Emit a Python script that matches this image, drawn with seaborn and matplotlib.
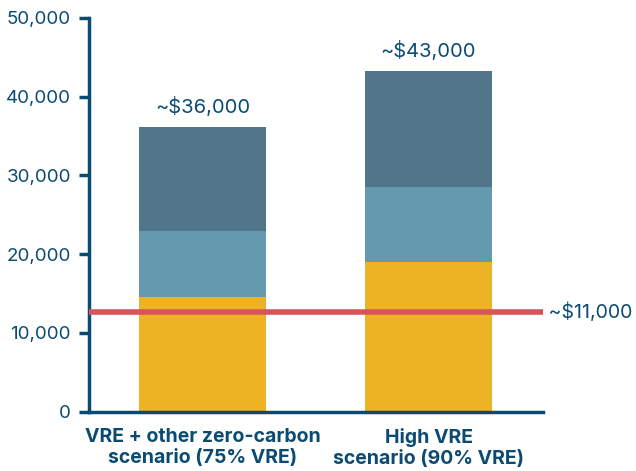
import pandas as pd
import seaborn as sns
import matplotlib.pyplot as plt

# scenario data
scenarios = ["VRE + other zero-carbon\nscenario (75% VRE)", "High VRE\nscenario (90% VRE)"]
yellow_part = [14500, 19050]
light_part = [8450, 9500]
dark_part = [13250, 14750]
total_labels = ["~$36,000", "~$43,000"]
ref_value = 12650
ref_label = "~$11,000"

navy = "#0B4A72"
c_yellow = "#EEB225"
c_light = "#6599B0"
c_dark = "#517589"
c_red = "#D6545A"

df = pd.DataFrame({"scenario": scenarios, "yellow": yellow_part,
                   "light": light_part, "dark": dark_part})
df["lvl1"] = df["yellow"]
df["lvl2"] = df["yellow"] + df["light"]
df["lvl3"] = df["lvl2"] + df["dark"]

sns.set_style("white")
plt.rcParams['font.family'] = ['Inter', 'DejaVu Sans']

fig = plt.figure(figsize=(6.36, 4.71), dpi=100)
ax = fig.add_axes([0.14, 0.126, 0.714, 0.836])

# stacked bars: draw cumulative heights on top of each other
for col, c in [("lvl3", c_dark), ("lvl2", c_light), ("lvl1", c_yellow)]:
    sns.barplot(data=df, x="scenario", y=col, color=c, saturation=1, width=0.56,
                linewidth=0, ax=ax)

ax.set_xlim(-0.502, 1.507)
ax.set_ylim(0, 50000)
ax.set_yticks(range(0, 50001, 10000))
ax.set_yticklabels([f"{v:,}" for v in range(0, 50001, 10000)])

# reference line
ax.axhline(ref_value, color=c_red, lw=4, zorder=5)
ax.text(1.0, ref_value, " " + ref_label, transform=ax.get_yaxis_transform(),
        ha="left", va="center", fontsize=14, color=navy, clip_on=False)

# totals above bars
for i, (tot, lab) in enumerate(zip(df["lvl3"], total_labels)):
    ax.annotate(lab, (i, tot), xytext=(0, 7), textcoords="offset points",
                ha="center", va="bottom", fontsize=14.5, color=navy)

ax.set_xlabel("")
ax.set_ylabel("")
for s in ["top", "right"]:
    ax.spines[s].set_visible(False)
for s in ["left", "bottom"]:
    ax.spines[s].set_color(navy)
    ax.spines[s].set_linewidth(2.5)

ax.tick_params(axis="y", length=7, width=2.5, color=navy, labelcolor=navy,
               labelsize=13.5, pad=6, left=True)
ax.tick_params(axis="x", length=0, labelcolor=navy, labelsize=14, pad=12)
for t in ax.get_xticklabels():
    t.set_fontweight("bold")
    t.set_linespacing(1.2)

plt.savefig("out.png", dpi=100)
